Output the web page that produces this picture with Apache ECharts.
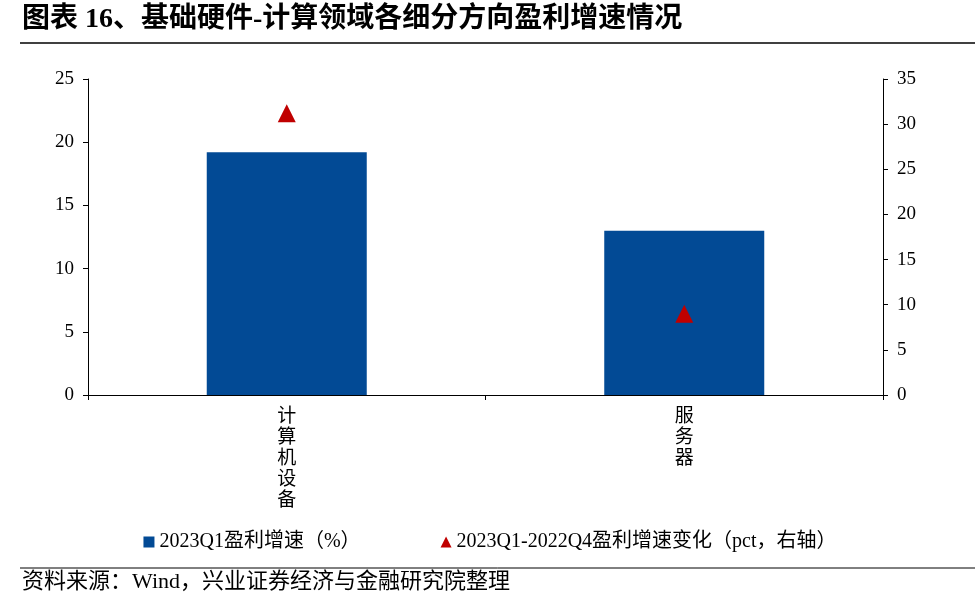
<!DOCTYPE html>
<html><head><meta charset="utf-8">
<script src="https://cdn.jsdelivr.net/npm/echarts@6/dist/echarts.min.js"></script>
<style>body{margin:0}#c{width:980px;height:599px}</style></head>
<body><div id="c"></div>
<script>
const categories=['计算机设备','服务器'];
const growth=[19.2,13.0];
const change=[31.2,9.0];
const leftTicks=[0,25,5];
const rightTicks=[0,35,5];
const F="'Liberation Serif','Noto Sans CJK SC',serif";
const c=echarts.init(document.getElementById('c'));
c.setOption({
 animation:false,
 graphic:[
  {type:'text',left:22,top:6,style:{text:'图表 16、基础硬件-计算领域各细分方向盈利增速情况',font:"bold 28px "+F,fill:'#000'}},
  {type:'line',shape:{x1:20,y1:43,x2:975,y2:43},style:{stroke:'#000',lineWidth:1.5}},
  {type:'line',shape:{x1:20,y1:568,x2:975,y2:568},style:{stroke:'#000',lineWidth:1}},
  {type:'text',left:22,top:571,style:{text:'资料来源：Wind，兴业证券经济与金融研究院整理',font:"22px "+F,fill:'#000'}}
 ],
 grid:{left:88,right:97,top:79,bottom:204},
 legend:{bottom:42,left:'center',itemGap:80,itemWidth:11,itemHeight:11,textStyle:{fontFamily:F,fontSize:20,color:'#000'},
  data:[{name:'2023Q1盈利增速（%）',icon:'rect'},{name:'2023Q1-2022Q4盈利增速变化（pct，右轴）',icon:'triangle'}]},
 xAxis:{type:'category',data:categories,axisTick:{show:true,length:5,lineStyle:{color:'#000'}},
  axisLine:{lineStyle:{color:'#000'}},
  axisLabel:{color:'#000',fontFamily:F,fontSize:19,lineHeight:21,margin:12,formatter:v=>v.split('').join('\n')}},
 yAxis:[
  {type:'value',min:leftTicks[0],max:leftTicks[1],interval:leftTicks[2],splitLine:{show:false},
   axisLine:{show:true,lineStyle:{color:'#000'}},axisTick:{show:true,lineStyle:{color:'#000'}},
   axisLabel:{color:'#000',fontFamily:F,fontSize:19,margin:14}},
  {type:'value',min:rightTicks[0],max:rightTicks[1],interval:rightTicks[2],splitLine:{show:false},
   axisLine:{show:true,lineStyle:{color:'#000'}},axisTick:{show:true,lineStyle:{color:'#000'}},
   axisLabel:{color:'#000',fontFamily:F,fontSize:19,margin:14}}
 ],
 series:[
  {name:'2023Q1盈利增速（%）',type:'bar',data:growth,barWidth:160,itemStyle:{color:'#024A95'}},
  {name:'2023Q1-2022Q4盈利增速变化（pct，右轴）',type:'scatter',yAxisIndex:1,data:change,symbol:'triangle',symbolSize:18,itemStyle:{color:'#C00000',opacity:1}}
 ]
});
</script></body></html>
